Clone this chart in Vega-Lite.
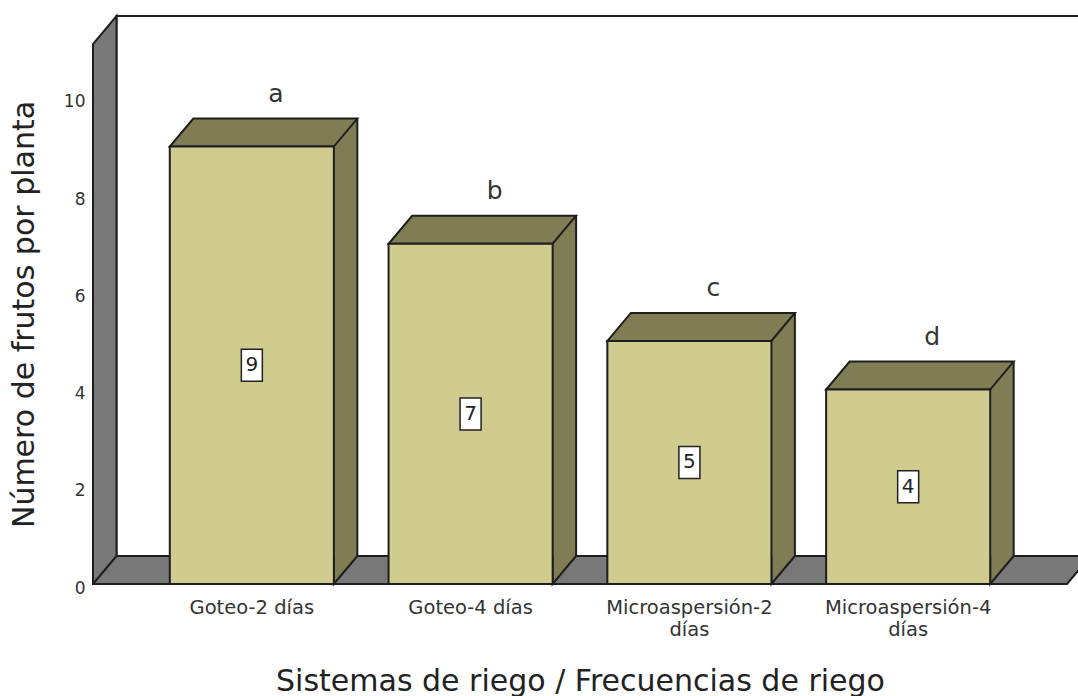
{
  "$schema": "https://vega.github.io/schema/vega-lite/v6.json",
  "width": 974,
  "height": 540,
  "autosize": "none",
  "padding": {"left": 93, "top": 44, "right": 11, "bottom": 112},
  "background": "white",
  "config": {"view": {"stroke": null}, "font": "DejaVu Sans"},
  "datasets": {
    "frutos": [
      {"sistema": "Goteo-2 días", "frutos": 9, "letra": "a"},
      {"sistema": "Goteo-4 días", "frutos": 7, "letra": "b"},
      {"sistema": "Microaspersión-2 días", "frutos": 5, "letra": "c"},
      {"sistema": "Microaspersión-4 días", "frutos": 4, "letra": "d"}
    ],
    "marco": [{"pieza": "pared"}]
  },
  "layer": [
    {
      "layer": [
        {
          "data": {"name": "marco"},
          "mark": {"type": "rect", "fill": "white", "stroke": "#1e1e1e", "strokeWidth": 2, "xOffset": 23.5, "x2Offset": 23.5, "yOffset": -28, "y2Offset": -28},
          "encoding": {"x": {"value": 0}, "x2": {"value": "width"}, "y": {"value": 0}, "y2": {"value": "height"}}
        },
        {
          "data": {"name": "marco"},
          "mark": {"type": "point", "shape": "M0,0 L0,-540 L23.5,-568 L23.5,-28 L997.5,-28 L974,0 Z M0,0 L23.5,-28", "size": 4, "filled": true, "fill": "#787878", "stroke": "#1e1e1e", "strokeWidth": 2, "opacity": 1},
          "encoding": {"x": {"value": 0}, "y": {"value": "height"}}
        },
        {
          "data": {"name": "frutos"},
          "mark": {"type": "bar", "fill": "#807d55", "width": 23.5, "xOffset": 93.75, "yOffset": -28, "y2Offset": -28, "strokeWidth": 0},
          "encoding": {
            "x": {"field": "sistema", "type": "nominal", "sort": null,
              "scale": {"paddingInner": 0.25, "paddingOuter": 0.351},
              "axis": {"labelAngle": 0, "domain": false, "ticks": false, "grid": false, "labelFont": "DejaVu Sans", "labelFontSize": 19.5, "labelColor": "#333333", "labelPadding": 14, "labelBaseline": "top", "labelLineHeight": 22, "labelLimit": 400,
                "labelExpr": "length(datum.label) > 14 ? split(datum.label, ' ') : datum.label",
                "title": "Sistemas de riego / Frecuencias de riego", "titleFont": "DejaVu Sans", "titleFontSize": 30, "titleFontWeight": "normal", "titleColor": "#222222", "titleY": 106, "titleBaseline": "alphabetic"}},
            "y": {"field": "frutos", "type": "quantitative",
              "scale": {"domain": [0, 11.11], "nice": false, "zero": true},
              "axis": {"values": [0, 2, 4, 6, 8, 10], "domain": false, "ticks": false, "grid": false, "labelFont": "DejaVu Sans", "labelFontSize": 17, "labelColor": "#333333", "labelPadding": 8, "labelOffset": 4,
                "title": "Número de frutos por planta", "titleFont": "DejaVu Sans", "titleFontSize": 30, "titleFontWeight": "normal", "titleColor": "#222222", "titleX": -60, "titleY": 270, "titleAngle": -90, "titleAlign": "center", "titleBaseline": "alphabetic"}}
          }
        },
        {
          "data": {"name": "frutos"},
          "mark": {"type": "point", "shape": "M105.5,-28 L82,0 L82,-28", "size": 4, "filled": true, "fill": "#807d55", "stroke": "#1e1e1e", "strokeWidth": 2, "opacity": 1},
          "encoding": {"x": {"field": "sistema", "type": "nominal", "sort": null}, "y": {"datum": 0, "type": "quantitative"}}
        },
        {
          "data": {"name": "frutos"},
          "mark": {"type": "rule", "xOffset": 105.5, "yOffset": -28, "y2Offset": -28, "stroke": "#1e1e1e", "strokeWidth": 2},
          "encoding": {"x": {"field": "sistema", "type": "nominal", "sort": null}, "y": {"field": "frutos", "type": "quantitative"}, "y2": {"datum": 0}}
        },
        {
          "data": {"name": "frutos"},
          "mark": {"type": "point", "shape": "M-82,0 L82,0 L105.5,-28 L-58.5,-28 Z", "size": 4, "filled": true, "fill": "#807d55", "stroke": "#1e1e1e", "strokeWidth": 2, "opacity": 1},
          "encoding": {"x": {"field": "sistema", "type": "nominal", "sort": null}, "y": {"field": "frutos", "type": "quantitative"}}
        },
        {
          "data": {"name": "frutos"},
          "mark": {"type": "bar", "fill": "#d0cb8f", "stroke": "#1e1e1e", "strokeWidth": 2},
          "encoding": {"x": {"field": "sistema", "type": "nominal", "sort": null}, "y": {"field": "frutos", "type": "quantitative"}}
        },
        {
          "data": {"name": "frutos"},
          "mark": {"type": "text", "dx": 24, "dy": -53, "fontSize": 25, "color": "#333333", "align": "center", "baseline": "middle"},
          "encoding": {"x": {"field": "sistema", "type": "nominal", "sort": null}, "y": {"field": "frutos", "type": "quantitative"}, "text": {"field": "letra"}}
        }
      ]
    },
    {
      "data": {"name": "frutos"},
      "encoding": {
        "x": {"field": "sistema", "type": "nominal", "sort": null},
        "y": {"field": "frutos", "type": "quantitative", "scale": {"domain": [0, 22.22], "nice": false, "zero": true}, "axis": null}
      },
      "layer": [
        {"mark": {"type": "point", "shape": "M-10.5,-16 L10.5,-16 L10.5,16 L-10.5,16 Z", "size": 4, "filled": true, "fill": "white", "stroke": "#222222", "strokeWidth": 1.5, "opacity": 1}},
        {"mark": {"type": "text", "fontSize": 20, "color": "#222222", "align": "center", "baseline": "middle"}, "encoding": {"text": {"field": "frutos", "type": "quantitative"}}}
      ]
    }
  ],
  "resolve": {"scale": {"y": "independent"}}
}
